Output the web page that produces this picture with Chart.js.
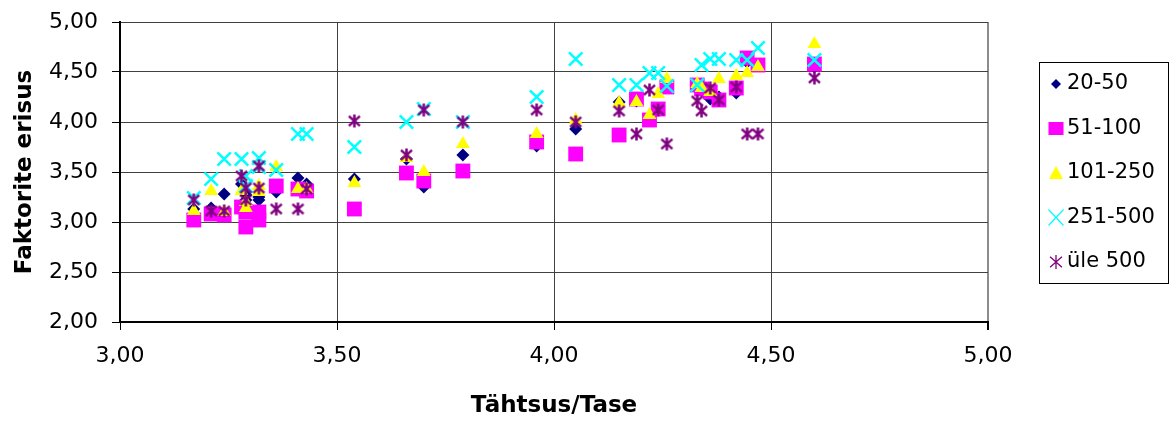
<!DOCTYPE html>
<html>
<head>
<meta charset="utf-8">
<title>Faktorite erisus</title>
<script src="https://cdn.jsdelivr.net/npm/chart.js@4.4.0/dist/chart.umd.min.js"></script>
<style>
    html, body { margin: 0; padding: 0; background: #fff; }
    #wrap { width: 1173px; height: 424px; }
</style>
</head>
<body>
<div id="wrap"><canvas id="chart" width="1173" height="424"></canvas></div>
<script>
// Tähtsus/Tase (x) for every item, shared by all groups
var tahtsus = [3.17, 3.21, 3.24, 3.28, 3.29, 3.29, 3.32, 3.32, 3.36, 3.41,
               3.43, 3.54, 3.66, 3.70, 3.79, 3.96, 4.05, 4.15, 4.19, 4.22,
               4.24, 4.26, 4.33, 4.34, 4.36, 4.38, 4.42, 4.445, 4.47, 4.60];

// Faktorite erisus (y) per group
var g20_50   = [3.13, 3.14, 3.28, 3.38, 3.22, 3.27, 3.22, 3.25, 3.30, 3.44,
                3.38, 3.43, 3.63, 3.35, 3.67, 3.76, 3.93, 4.20, 4.21, 4.05,
                4.13, 4.36, 4.33, 4.36, 4.23, 4.25, 4.29, 4.60, 4.57, 4.55];
var g51_100  = [3.02, 3.08, 3.07, 3.15, 2.95, 3.10, 3.02, 3.10, 3.36, 3.33,
                3.31, 3.13, 3.49, 3.41, 3.51, 3.80, 3.68, 3.87, 4.23, 4.02,
                4.13, 4.35, 4.37, 4.33, 4.30, 4.22, 4.34, 4.64, 4.57, 4.58];
var g101_250 = [3.11, 3.31, 3.10, 3.31, 3.14, 3.20, 3.36, 3.30, 3.55, 3.33,
                3.33, 3.39, 3.64, 3.50, 3.78, 3.88, 4.02, 4.19, 4.20, 4.07,
                4.28, 4.43, 4.38, 4.34, 4.30, 4.43, 4.46, 4.49, 4.55, 4.78];
var g251_500 = [3.24, 3.43, 3.63, 3.63, 3.46, 3.36, 3.64, 3.55, 3.52, 3.88,
                3.88, 3.75, 4.00, 4.13, 4.00, 4.25, 4.63, 4.37, 4.37, 4.49,
                4.49, 4.36, 4.37, 4.57, 4.63, 4.63, 4.62, 4.62, 4.74, 4.62];
var gUle500  = [3.22, 3.11, 3.11, 3.46, 3.22, 3.34, 3.56, 3.34, 3.13, 3.13,
                3.33, 4.01, 3.67, 4.12, 4.00, 4.12, 4.00, 4.11, 3.88, 4.32,
                4.12, 3.78, 4.21, 4.11, 4.34, 4.22, 4.35, 3.88, 3.88, 4.44];

var groupNames = ["20-50", "51-100", "101-250", "251-500", "üle 500"];
var xRange = [3, 5];
var yRange = [2, 5];
var tickStep = 0.5;
var xTitle = "Tähtsus/Tase";
var yTitle = "Faktorite erisus";

var colors = ["#000080", "#FF00FF", "#FFFF00", "#00FFFF", "#800080"];

function fmt(v) {
    return Number(v).toFixed(2).replace(".", ",");
}

function pairs(ys) {
    return ys.map(function(y, i) { return { x: tahtsus[i], y: y }; });
}

// asterisk marker like the spreadsheet one: X plus a vertical bar
function makeStar(size, lw, color) {
    var c = document.createElement("canvas");
    c.width = size;
    c.height = size;
    var g = c.getContext("2d");
    var m = size / 2, r = size / 2 - 1;
    g.strokeStyle = color;
    g.lineWidth = lw;
    g.beginPath();
    g.moveTo(m, m - r); g.lineTo(m, m + r);
    g.moveTo(m - r * 0.85, m - r * 0.75); g.lineTo(m + r * 0.85, m + r * 0.75);
    g.moveTo(m + r * 0.85, m - r * 0.75); g.lineTo(m - r * 0.85, m + r * 0.75);
    g.stroke();
    return c;
}

var starBig = makeStar(15, 2.5, colors[4]);
var starSmall = makeStar(16, 1.3, colors[4]);

function drawLegendMarker(ctx, i, x, y) {
    ctx.save();
    ctx.fillStyle = colors[i];
    ctx.strokeStyle = colors[i];
    ctx.beginPath();
    if (i === 0) {
        ctx.moveTo(x - 5, y); ctx.lineTo(x, y - 5); ctx.lineTo(x + 5, y); ctx.lineTo(x, y + 5);
        ctx.closePath(); ctx.fill();
    } else if (i === 1) {
        ctx.rect(x - 7.5, y - 6.5, 15, 13); ctx.fill();
    } else if (i === 2) {
        ctx.moveTo(x, y - 7); ctx.lineTo(x + 7, y + 6); ctx.lineTo(x - 7, y + 6);
        ctx.closePath(); ctx.fill();
    } else if (i === 3) {
        ctx.lineWidth = 1.2;
        ctx.moveTo(x - 7.5, y - 8); ctx.lineTo(x + 7.5, y + 8);
        ctx.moveTo(x + 7.5, y - 8); ctx.lineTo(x - 7.5, y + 8);
        ctx.stroke();
    } else {
        ctx.drawImage(starSmall, x - 8, y - 8);
    }
    ctx.restore();
}

var sideLegend = {
    id: "sideLegend",
    afterDraw: function(chart) {
        var ctx = chart.ctx;
        ctx.save();
        ctx.strokeStyle = "#000";
        ctx.lineWidth = 1;
        ctx.strokeRect(1039.5, 62.5, 129, 221);
        ctx.font = '21px "DejaVu Sans"';
        ctx.fillStyle = "#000";
        ctx.textBaseline = "middle";
        ctx.textAlign = "left";
        groupNames.forEach(function(name, i) {
            var y = 84 + i * 44.5;
            drawLegendMarker(ctx, i, 1056, y);
            ctx.fillText(name, 1067, y);
        });
        ctx.restore();
    }
};

var tickFont = { family: "DejaVu Sans", size: 22 };
var titleFont = { family: "DejaVu Sans", size: 23, weight: "bold" };

var ctx = document.getElementById("chart").getContext("2d");
var chart = new Chart(ctx, {
    type: "scatter",
    data: {
        datasets: [
            { label: groupNames[0], data: pairs(g20_50), order: 5, pointStyle: "rectRot",
              pointRadius: 6.5, backgroundColor: colors[0], borderColor: colors[0], borderWidth: 0 },
            { label: groupNames[1], data: pairs(g51_100), order: 4, pointStyle: "rect",
              pointRadius: 10.5, backgroundColor: colors[1], borderColor: colors[1], borderWidth: 0 },
            { label: groupNames[2], data: pairs(g101_250), order: 3, pointStyle: "triangle",
              pointRadius: 8, backgroundColor: colors[2], borderColor: colors[2], borderWidth: 0 },
            { label: groupNames[3], data: pairs(g251_500), order: 2, pointStyle: "crossRot",
              pointRadius: 9.5, backgroundColor: colors[3], borderColor: colors[3], borderWidth: 2.5 },
            { label: groupNames[4], data: pairs(gUle500), order: 1, pointStyle: starBig,
              pointRadius: 7, backgroundColor: colors[4], borderColor: colors[4], borderWidth: 0 }
        ]
    },
    options: {
        responsive: false,
        animation: false,
        events: [],
        layout: { padding: { left: 0, top: 22, right: 185, bottom: 0 } },
        plugins: {
            legend: { display: false },
            tooltip: { enabled: false }
        },
        scales: {
            x: {
                type: "linear",
                min: xRange[0],
                max: xRange[1],
                ticks: { stepSize: tickStep, padding: 13, color: "#000", font: tickFont,
                         callback: fmt, autoSkip: false, maxRotation: 0 },
                grid: {
                    color: function(c) { return c.tick && c.tick.value === xRange[1] ? "#8c8c8c" : "#404040"; },
                    lineWidth: function(c) { return c.tick && c.tick.value === xRange[1] ? 2 : 1; },
                    tickColor: "#000",
                    tickLength: 8
                },
                border: { color: "#000", width: 2 },
                title: { display: true, text: xTitle, color: "#000", font: titleFont,
                         padding: { top: 0, bottom: 4 } },
                afterFit: function(scale) {
                    scale.height = 102;
                    scale.paddingLeft = 0;
                    scale.paddingRight = 0;
                }
            },
            y: {
                type: "linear",
                min: yRange[0],
                max: yRange[1],
                ticks: { stepSize: tickStep, padding: 14, color: "#000", font: tickFont, callback: fmt },
                grid: { color: "#404040", lineWidth: 1, tickColor: "#000", tickLength: 8 },
                border: { color: "#000", width: 2 },
                title: { display: true, text: yTitle, color: "#000", font: titleFont,
                         padding: { top: 11, bottom: 0 } },
                afterFit: function(scale) {
                    scale.width = 120;
                    scale.paddingTop = 0;
                    scale.paddingBottom = 0;
                }
            }
        }
    },
    plugins: [sideLegend]
});
</script>
</body>
</html>
